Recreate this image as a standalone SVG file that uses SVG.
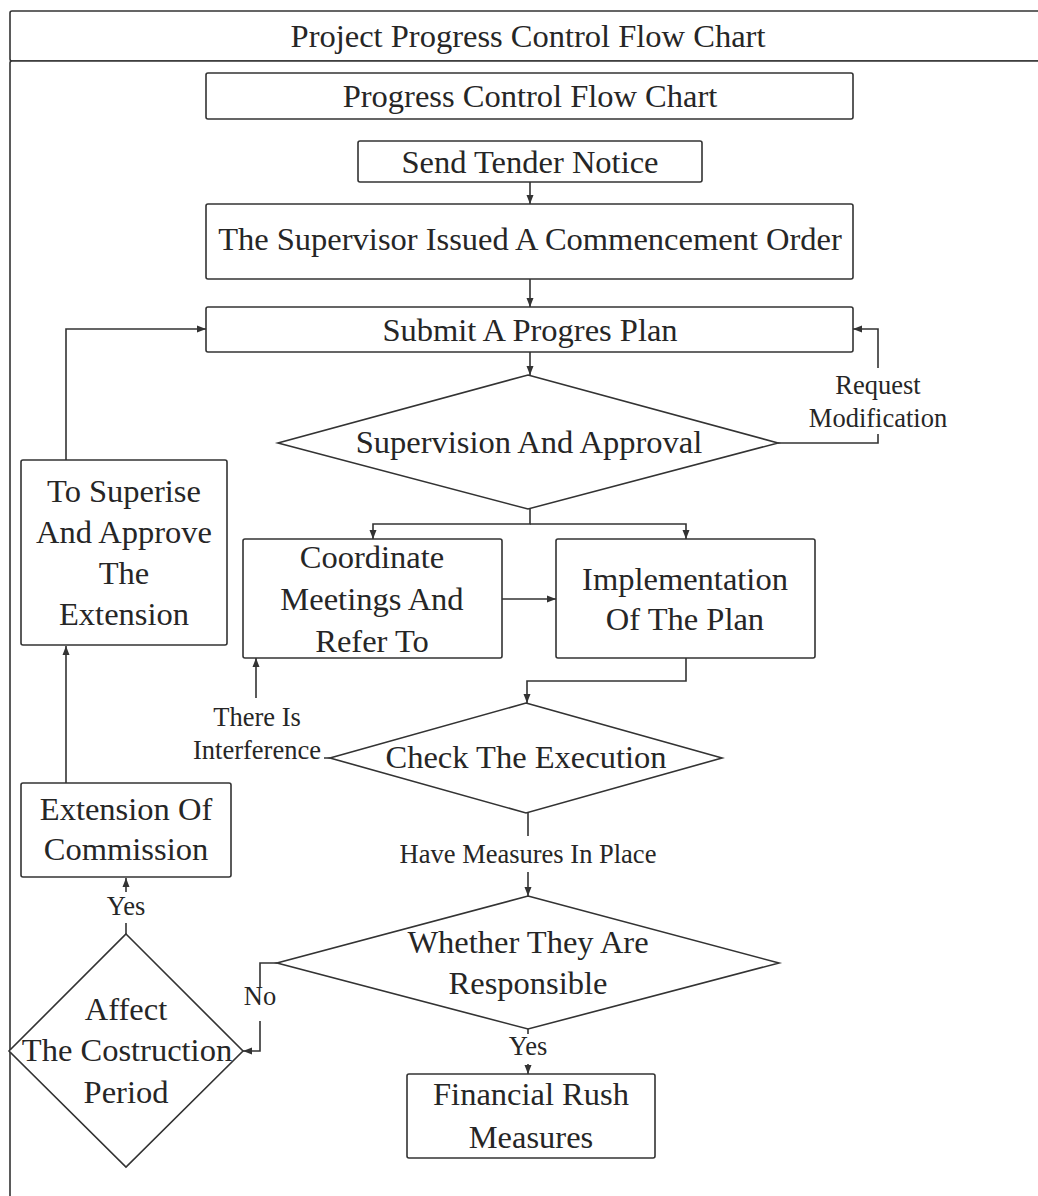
<svg xmlns="http://www.w3.org/2000/svg" width="1038" height="1196" viewBox="0 0 1038 1196">
<defs>
<marker id="arr" markerWidth="9" markerHeight="8" refX="9" refY="4" orient="auto" markerUnits="userSpaceOnUse">
<path d="M0,0.5 L9,4 L0,7.5 z" fill="#333"/>
</marker>
<style>
.box{fill:#fff;stroke:#333;stroke-width:1.6}
.frame{fill:#fff;stroke:#333;stroke-width:1.6}
text{font-family:'Liberation Serif','DejaVu Serif',serif;fill:#262626;text-anchor:middle}
.t{font-size:32.5px}
.l{font-size:26.5px}
.c{fill:none;stroke:#333;stroke-width:1.6;marker-end:url(#arr)}
.bg{fill:#fff;stroke:none}
</style>
</defs>
<rect width="1038" height="1196" fill="#fff"/>
<g id="frame">
<rect class="frame" x="10" y="11" width="1045" height="50" rx="2"/>
<rect class="frame" x="10" y="61" width="1045" height="1150" rx="2"/>
<text class="t" x="528" y="47">Project Progress Control Flow Chart</text>
</g>
<g id="connectors">
<path class="c" d="M530 182 V204"/>
<path class="c" d="M530 279 V307"/>
<path class="c" d="M530 352 V375"/>
<path class="c" d="M778 443 H878 V329 H853"/>
<path class="c" d="M530 509 V524 H373 V539"/>
<path class="c" d="M530 524 H686 V539"/>
<path class="c" d="M502 599 H556"/>
<path class="c" d="M686 658 V681 H527 V703"/>
<path class="c" d="M330 758 H256 V658"/>
<path class="c" d="M528 813 V896"/>
<path class="c" d="M528 1029 V1074"/>
<path class="c" d="M277 963 H260 V1051 H243"/>
<path class="c" d="M126 934 V878"/>
<path class="c" d="M66 783 V646"/>
<path class="c" d="M66 460 V329 H206"/>
<rect class="bg" x="804" y="368" width="148" height="66"/>
<text class="l" x="878" y="394">Request</text>
<text class="l" x="878" y="427">Modification</text>
<rect class="bg" x="206" y="698" width="100" height="38"/>
<rect class="bg" x="188" y="732" width="136" height="34"/>
<text class="l" x="257" y="726">There Is</text>
<text class="l" x="257" y="759">Interference</text>
<rect class="bg" x="394" y="836" width="268" height="36"/>
<text class="l" x="528" y="863">Have Measures In Place</text>
<rect class="bg" x="506" y="1034" width="44" height="30"/>
<text class="l" x="528" y="1055">Yes</text>
<rect class="bg" x="243" y="988" width="34" height="33"/>
<text class="l" x="260" y="1005">No</text>
<rect class="bg" x="104" y="892" width="44" height="31"/>
<text class="l" x="126" y="915">Yes</text>
</g>
<g id="n-header">
<rect class="box" x="206" y="73" width="647" height="46" rx="2"/>
<text class="t" x="530" y="107">Progress Control Flow Chart</text>
</g>
<g id="n-tender">
<rect class="box" x="358" y="141" width="344" height="41" rx="2"/>
<text class="t" x="530" y="173">Send Tender Notice</text>
</g>
<g id="n-commence">
<rect class="box" x="206" y="204" width="647" height="75" rx="2"/>
<text class="t" x="530" y="250">The Supervisor Issued A Commencement Order</text>
</g>
<g id="n-submit">
<rect class="box" x="206" y="307" width="647" height="45" rx="2"/>
<text class="t" x="530" y="341">Submit A Progres Plan</text>
</g>
<g id="n-supervision">
<polygon class="box" points="528,375 778,443 528,509 278,443"/>
<text class="t" x="529" y="453">Supervision And Approval</text>
</g>
<g id="n-coordinate">
<rect class="box" x="243" y="539" width="259" height="119" rx="2"/>
<text class="t" x="372" y="568">Coordinate</text>
<text class="t" x="372" y="610">Meetings And</text>
<text class="t" x="372" y="652">Refer To</text>
</g>
<g id="n-implementation">
<rect class="box" x="556" y="539" width="259" height="119" rx="2"/>
<text class="t" x="685" y="590">Implementation</text>
<text class="t" x="685" y="630">Of The Plan</text>
</g>
<g id="n-check">
<polygon class="box" points="526,703 722,758 526,813 330,758"/>
<text class="t" x="526" y="768">Check The Execution</text>
</g>
<g id="n-whether">
<polygon class="box" points="528,896 779,963 528,1029 277,963"/>
<text class="t" x="528" y="953">Whether They Are</text>
<text class="t" x="528" y="994">Responsible</text>
</g>
<g id="n-financial">
<rect class="box" x="407" y="1074" width="248" height="84" rx="2"/>
<text class="t" x="531" y="1105">Financial Rush</text>
<text class="t" x="531" y="1148">Measures</text>
</g>
<g id="n-affect">
<polygon class="box" points="126,934 243,1051 126,1167 9,1051"/>
<text class="t" x="126" y="1020">Affect</text>
<text class="t" x="127" y="1061">The Costruction</text>
<text class="t" x="126" y="1103">Period</text>
</g>
<g id="n-extension">
<rect class="box" x="21" y="783" width="210" height="94" rx="2"/>
<text class="t" x="126" y="820">Extension Of</text>
<text class="t" x="126" y="860">Commission</text>
</g>
<g id="n-approve">
<rect class="box" x="21" y="460" width="206" height="185" rx="2"/>
<text class="t" x="124" y="502">To Superise</text>
<text class="t" x="124" y="543">And Approve</text>
<text class="t" x="124" y="584">The</text>
<text class="t" x="124" y="625">Extension</text>
</g>
</svg>
